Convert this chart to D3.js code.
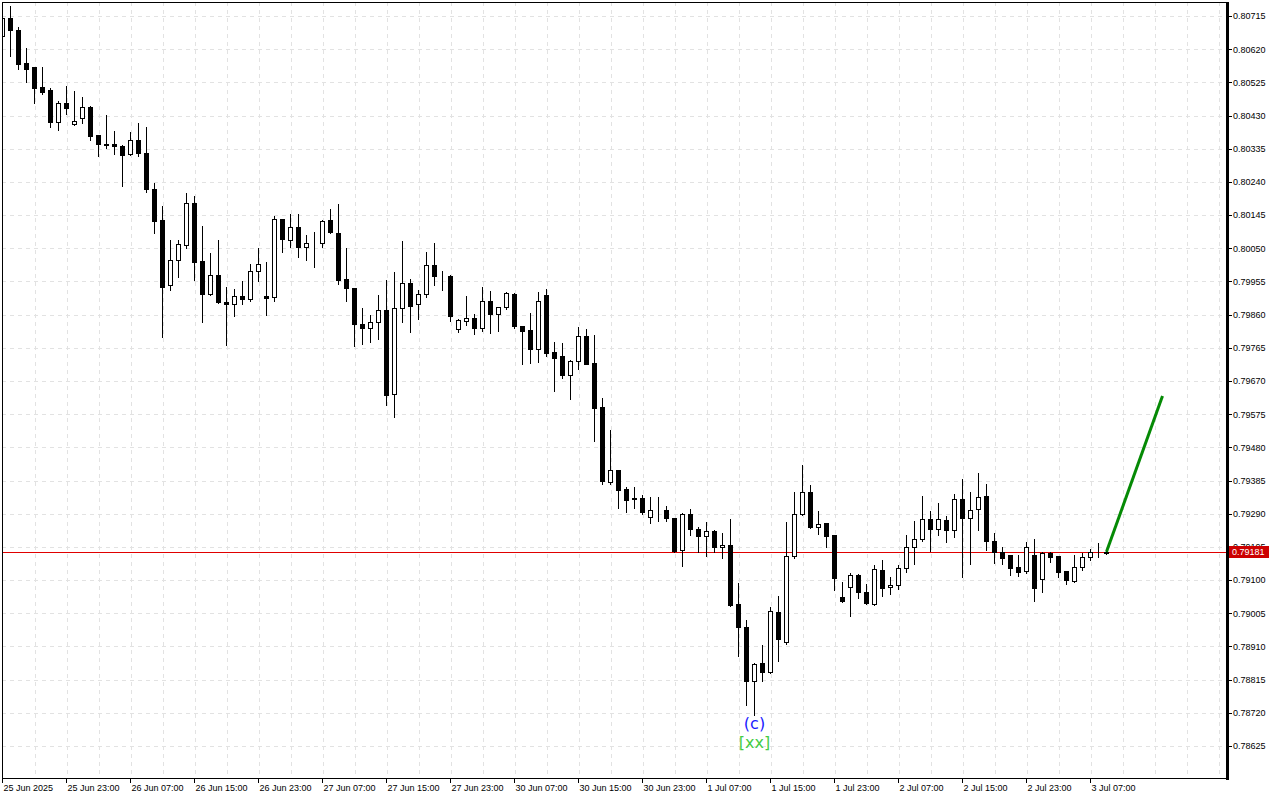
<!DOCTYPE html>
<html>
<head>
<meta charset="utf-8">
<script src="https://cdn.jsdelivr.net/npm/d3@7"></script>
<style>
  html, body { margin: 0; padding: 0; background: #ffffff; }
  svg { display: block; }
  text { font-family: "Liberation Sans", Arial, sans-serif; }
</style>
</head>
<body>
<svg id="chart" width="1280" height="800"></svg>
<script>
// ---- data (hourly candles, 25 Jun 2025 15:00 .. 3 Jul 2025 10:00) ----
const opens = [
0.80656,0.80708,0.80675,0.80580,0.80569,0.80512,0.80503,0.80411,0.80465,0.80405,
0.80422,0.80454,0.80373,0.80348,0.80348,0.80343,0.80318,0.80359,0.80323,0.80220,
0.80131,0.79943,0.80015,0.80061,0.80180,0.80014,0.79920,0.79973,0.79896,0.79890,
0.79912,0.79904,0.79984,0.79913,0.79911,0.80133,0.80072,0.80110,0.80053,0.80065,
0.80064,0.80130,0.80094,0.79962,0.79935,0.79833,0.79822,0.79837,0.79872,0.79632,
0.79878,0.79950,0.79890,0.79918,0.80001,0.79970,0.79971,0.79818,0.79841,0.79850,
0.79822,0.79898,0.79860,0.79881,0.79918,0.79827,0.79816,0.79762,0.79915,0.79753,
0.79742,0.79685,0.79726,0.79798,0.79721,0.79595,0.79382,0.79415,0.79361,0.79335,
0.79335,0.79279,0.79297,0.79300,0.79277,0.79186,0.79288,0.79245,0.79225,0.79240,
0.79194,0.79200,0.79031,0.78965,0.78809,0.78862,0.78835,0.79009,0.78921,0.79167,
0.79288,0.79351,0.79251,0.79263,0.79228,0.79052,0.79079,0.79114,0.79065,0.79032,
0.79128,0.79079,0.79085,0.79134,0.79194,0.79216,0.79274,0.79244,0.79271,0.79242,
0.79332,0.79277,0.79303,0.79340,0.79211,0.79180,0.79172,0.79137,0.79124,0.79172,
0.79102,0.79177,0.79169,0.79125,0.79098,0.79137,0.79165,0.79180,0.79178];
const highs = [
0.80712,0.80744,0.80683,0.80623,0.80569,0.80569,0.80508,0.80472,0.80515,0.80500,
0.80483,0.80457,0.80374,0.80432,0.80386,0.80346,0.80383,0.80409,0.80397,0.80237,
0.80171,0.80074,0.80074,0.80208,0.80200,0.80114,0.80036,0.80074,0.79940,0.79933,
0.79956,0.80005,0.80050,0.80011,0.80142,0.80134,0.80148,0.80148,0.80088,0.80096,
0.80131,0.80162,0.80177,0.80050,0.79936,0.79879,0.79858,0.79916,0.79959,0.79982,
0.80070,0.79962,0.79931,0.80039,0.80065,0.79985,0.79973,0.79847,0.79913,0.79862,
0.79939,0.79928,0.79881,0.79925,0.79921,0.79827,0.79865,0.79925,0.79933,0.79781,
0.79779,0.79730,0.79825,0.79819,0.79802,0.79620,0.79530,0.79416,0.79366,0.79366,
0.79343,0.79338,0.79338,0.79312,0.79278,0.79291,0.79303,0.79251,0.79265,0.79243,
0.79234,0.79275,0.79091,0.78986,0.78862,0.78913,0.79022,0.79054,0.79266,0.79353,
0.79429,0.79372,0.79298,0.79263,0.79228,0.79094,0.79120,0.79118,0.79088,0.79142,
0.79157,0.79109,0.79142,0.79229,0.79269,0.79341,0.79298,0.79321,0.79283,0.79346,
0.79389,0.79352,0.79406,0.79375,0.79235,0.79195,0.79172,0.79172,0.79209,0.79218,
0.79180,0.79181,0.79170,0.79126,0.79172,0.79177,0.79189,0.79206,0.79184];
const lows = [
0.80652,0.80601,0.80562,0.80527,0.80467,0.80493,0.80398,0.80389,0.80435,0.80403,
0.80410,0.80361,0.80315,0.80338,0.80321,0.80229,0.80317,0.80315,0.80212,0.80095,
0.79797,0.79931,0.79969,0.80050,0.79960,0.79840,0.79917,0.79894,0.79773,0.79857,
0.79891,0.79900,0.79957,0.79860,0.79900,0.80040,0.80054,0.80026,0.80017,0.79997,
0.80054,0.80094,0.79949,0.79900,0.79771,0.79776,0.79782,0.79791,0.79601,0.79568,
0.79840,0.79811,0.79848,0.79911,0.79946,0.79931,0.79843,0.79811,0.79831,0.79805,
0.79814,0.79808,0.79814,0.79875,0.79822,0.79719,0.79722,0.79724,0.79742,0.79641,
0.79679,0.79618,0.79705,0.79718,0.79499,0.79376,0.79376,0.79307,0.79296,0.79307,
0.79289,0.79264,0.79268,0.79270,0.79181,0.79141,0.79228,0.79179,0.79170,0.79179,
0.79162,0.79027,0.78883,0.78742,0.78714,0.78812,0.78834,0.78868,0.78916,0.79164,
0.79285,0.79250,0.79233,0.79195,0.79072,0.79038,0.78998,0.79050,0.79032,0.79028,
0.79055,0.79061,0.79075,0.79124,0.79147,0.79213,0.79184,0.79230,0.79210,0.79224,
0.79110,0.79147,0.79242,0.79186,0.79150,0.79147,0.79115,0.79113,0.79121,0.79041,
0.79067,0.79152,0.79110,0.79088,0.79094,0.79130,0.79157,0.79167,0.79175];
const closes = [
0.80708,0.80673,0.80578,0.80564,0.80510,0.80498,0.80410,0.80465,0.80450,0.80413,
0.80454,0.80372,0.80346,0.80346,0.80341,0.80318,0.80359,0.80321,0.80220,0.80129,
0.79940,0.80016,0.80061,0.80180,0.80012,0.79920,0.79973,0.79895,0.79890,0.79912,
0.79904,0.79984,0.80004,0.79908,0.80133,0.80075,0.80110,0.80052,0.80064,0.80064,
0.80127,0.80095,0.79960,0.79937,0.79831,0.79822,0.79838,0.79872,0.79628,0.79878,
0.79950,0.79883,0.79918,0.80001,0.79969,0.79969,0.79857,0.79845,0.79850,0.79822,
0.79898,0.79860,0.79881,0.79922,0.79825,0.79814,0.79762,0.79898,0.79750,0.79737,
0.79687,0.79726,0.79798,0.79719,0.79591,0.79382,0.79415,0.79359,0.79330,0.79331,
0.79296,0.79300,0.79297,0.79276,0.79183,0.79288,0.79245,0.79224,0.79240,0.79193,
0.79200,0.79029,0.78964,0.78809,0.78859,0.78835,0.79011,0.78932,0.79168,0.79288,
0.79351,0.79250,0.79260,0.79227,0.79104,0.79041,0.79114,0.79064,0.79034,0.79132,
0.79076,0.79086,0.79134,0.79194,0.79217,0.79274,0.79244,0.79274,0.79242,0.79332,
0.79277,0.79300,0.79337,0.79210,0.79180,0.79164,0.79135,0.79124,0.79194,0.79078,
0.79177,0.79165,0.79124,0.79098,0.79137,0.79166,0.79180,0.79179,0.79181];

const priceTicks = [0.80715,0.80620,0.80525,0.80430,0.80335,0.80240,0.80145,0.80050,
  0.79955,0.79860,0.79765,0.79670,0.79575,0.79480,0.79385,0.79290,0.79195,0.79100,
  0.79005,0.78910,0.78815,0.78720,0.78625];
const timeTickIndex = [0,8,16,24,32,40,48,56,64,72,80,88,96,104,112,120,128,136];
const timeTickLabels = ["25 Jun 2025","25 Jun 23:00","26 Jun 07:00","26 Jun 15:00",
  "26 Jun 23:00","27 Jun 07:00","27 Jun 15:00","27 Jun 23:00","30 Jun 07:00",
  "30 Jun 15:00","30 Jun 23:00","1 Jul 07:00","1 Jul 15:00","1 Jul 23:00",
  "2 Jul 07:00","2 Jul 15:00","2 Jul 23:00","3 Jul 07:00"];
const currentPrice = 0.79181;
const projectionIndex = [138, 145];
const projectionPrice = [0.79181, 0.79627];
const waveLabels = [{index: 94, text: "(c)", color: "#1a1aff"},
                    {index: 94, text: "[xx]", color: "#44cc44"}];

// ---- layout ----
const svg = d3.select("#chart");
const plotL = 2, plotT = 2, plotR = 1227, plotB = 778;

const x = d3.scaleLinear().domain([0, 1]).range([2.5, 10.5]);
const y = d3.scaleLinear().domain([0.78625, 0.80715]).range([746, 16]);

svg.append("defs").append("clipPath").attr("id", "plotclip")
  .append("rect").attr("x", plotL).attr("y", plotT)
  .attr("width", plotR - plotL).attr("height", plotB - plotT);

// grid
const grid = svg.append("g").attr("shape-rendering", "crispEdges")
  .attr("stroke", "#e2e2e2").attr("stroke-dasharray", "4,4").attr("stroke-width", 1);
const vIdx = d3.range(4, 153, 4);
grid.selectAll("line.v").data(vIdx).join("line")
  .attr("x1", d => Math.round(x(d)) + 0.5).attr("x2", d => Math.round(x(d)) + 0.5)
  .attr("y1", plotT).attr("y2", plotB);
grid.selectAll("line.h").data(priceTicks).join("line")
  .attr("x1", plotL).attr("x2", plotR)
  .attr("y1", d => Math.round(y(d)) + 0.5).attr("y2", d => Math.round(y(d)) + 0.5);

// current price line
svg.append("line").attr("shape-rendering", "crispEdges")
  .attr("x1", plotL).attr("x2", plotR)
  .attr("y1", Math.round(y(currentPrice)) + 0.5).attr("y2", Math.round(y(currentPrice)) + 0.5)
  .attr("stroke", "#e00000").attr("stroke-width", 1);

// candles
const candles = svg.append("g").attr("clip-path", "url(#plotclip)").attr("shape-rendering", "crispEdges");
const idx = d3.range(opens.length);
const cx = i => Math.floor(x(i)) + 0.5;
candles.selectAll("line.wick").data(idx).join("line")
  .attr("x1", cx).attr("x2", cx)
  .attr("y1", i => Math.round(y(highs[i]))).attr("y2", i => Math.round(y(lows[i])) + 1)
  .attr("stroke", "#000").attr("stroke-width", 1);
candles.selectAll("rect.body").data(idx).join("rect")
  .attr("x", i => cx(i) - 2).attr("width", 4)
  .attr("y", i => Math.round(Math.min(y(opens[i]), y(closes[i]))) + 0.5)
  .attr("height", i => Math.max(0, Math.round(Math.abs(y(opens[i]) - y(closes[i])))))
  .attr("fill", i => closes[i] >= opens[i] ? "#fff" : "#000")
  .attr("stroke", "#000").attr("stroke-width", 1);

// projection line
svg.append("path").attr("clip-path", "url(#plotclip)")
  .datum(projectionIndex.map((d, k) => [d, projectionPrice[k]]))
  .attr("d", d3.line().x(d => x(d[0])).y(d => y(d[1])))
  .attr("fill", "none").attr("stroke", "#058a05").attr("stroke-width", 3);

// wave labels
waveLabels.forEach((w, k) => {
  svg.append("text").attr("x", x(w.index)).attr("y", y(lows[w.index]) + 14 + k * 19)
    .attr("text-anchor", "middle").attr("font-size", 16)
    .style("font-family", "'DejaVu Sans', sans-serif")
    .attr("fill", w.color).text(w.text);
});

// frame
const frame = svg.append("g").attr("shape-rendering", "crispEdges").attr("stroke", "#000");
frame.append("line").attr("x1", 2.5).attr("x2", 2.5).attr("y1", 2).attr("y2", 779).attr("stroke-width", 1.5);
frame.append("line").attr("x1", 2).attr("x2", 1229).attr("y1", 2.5).attr("y2", 2.5).attr("stroke-width", 1.5);
frame.append("line").attr("x1", 2).attr("x2", 1229).attr("y1", 778.5).attr("y2", 778.5).attr("stroke-width", 1.5);
frame.append("line").attr("x1", 1227.5).attr("x2", 1227.5).attr("y1", 2).attr("y2", 780).attr("stroke-width", 3);

// y axis
const yAxis = svg.append("g").attr("transform", "translate(1229,0)")
  .call(d3.axisRight(y).tickValues(priceTicks).tickSize(3).tickPadding(1).tickFormat(d3.format(".5f")));
yAxis.select(".domain").remove();
yAxis.selectAll("line").attr("shape-rendering", "crispEdges");
yAxis.selectAll("text").attr("font-size", 9).attr("fill", "#000").style("font-family", "'Liberation Sans', Arial, sans-serif");

// x axis
const xAxis = svg.append("g").attr("transform", "translate(0,779)")
  .call(d3.axisBottom(x).tickValues(timeTickIndex).tickSize(4).tickPadding(2)
    .tickFormat((d, k) => timeTickLabels[k]));
xAxis.select(".domain").remove();
xAxis.selectAll(".tick").attr("transform", d => `translate(${Math.floor(x(d)) + 0.5},0)`);
xAxis.selectAll("line").attr("shape-rendering", "crispEdges");
xAxis.selectAll("text").attr("text-anchor", "start").attr("x", 1)
  .attr("font-size", 9).attr("fill", "#000").style("font-family", "'Liberation Sans', Arial, sans-serif");

// current price tag
const tagY = Math.round(y(currentPrice));
svg.append("rect").attr("x", 1229).attr("y", tagY - 6).attr("width", 40).attr("height", 12)
  .attr("fill", "#cc0000");
svg.append("text").attr("x", 1232).attr("y", tagY).attr("dy", "0.35em")
  .attr("font-size", 9).attr("fill", "#fff").text(d3.format(".5f")(currentPrice));
</script>
</body>
</html>
